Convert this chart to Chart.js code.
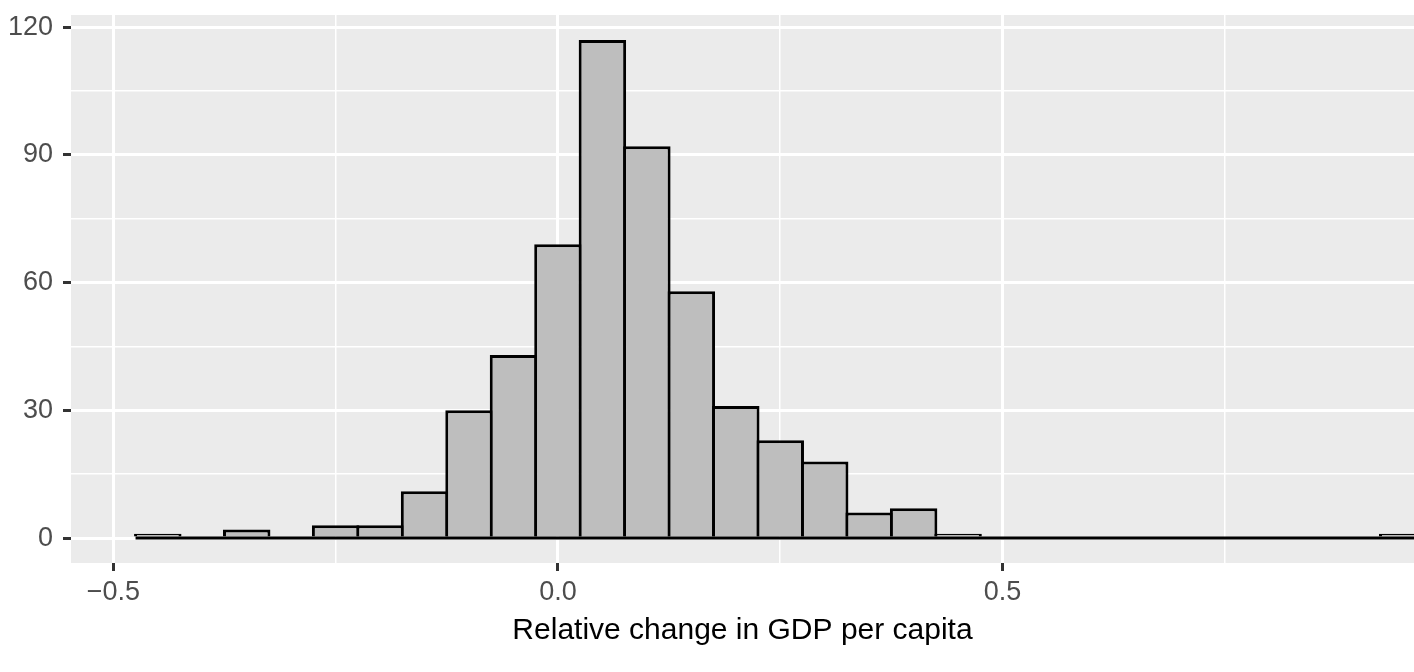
<!DOCTYPE html>
<html>
<head>
<meta charset="utf-8">
<title>Relative change in GDP per capita</title>
<script src="https://cdn.jsdelivr.net/npm/chart.js@4.4.1/dist/chart.umd.min.js"></script>
<style>
    html, body { margin: 0; padding: 0; background: #ffffff; overflow: hidden; }
    .chart-box { position: relative; width: 1414px; height: 672px; }
</style>
</head>
<body>
<div class="chart-box"><canvas id="hist-chart"></canvas></div>
<script>
// Bins (width 0.05) and counts
const binWidth = 0.05;
const binCenters = [-0.45, -0.40, -0.35, -0.30, -0.25, -0.20, -0.15, -0.10, -0.05, 0.00,
    0.05, 0.10, 0.15, 0.20, 0.25, 0.30, 0.35, 0.40, 0.45, 0.50,
    0.55, 0.60, 0.65, 0.70, 0.75, 0.80, 0.85, 0.90, 0.95];
const counts = [1, 0, 2, 0, 3, 3, 11, 30, 43, 69,
    117, 92, 58, 31, 23, 18, 6, 7, 1, 0,
    0, 0, 0, 0, 0, 0, 0, 0, 1];

// Axis ticks (major get labels, minor only grid lines)
const xTicks = [-0.5, -0.25, 0, 0.25, 0.5, 0.75];
const xMajor = [-0.5, 0, 0.5];
const yTicks = [0, 15, 30, 45, 60, 75, 90, 105, 120];
const yMajor = [0, 30, 60, 90, 120];

// Visible range (panel is cut at the right edge of the picture)
const xRange = [-0.5476, 0.9627];
const yRange = [-5.85, 122.85];

document.addEventListener('DOMContentLoaded', function () {
    const isMajor = (list, v) => list.some(m => Math.abs(m - v) < 1e-9);
    const fmtX = v => (v < 0 ? '\u2212' : '') + Math.abs(v).toFixed(1);

    const bars = binCenters.map((c, i) => ({ x: c, y: counts[i] }));
    // outline along zero, also under the empty bins
    const baseline = [
        { x: binCenters[0] - binWidth / 2, y: 0 },
        { x: binCenters[binCenters.length - 1] + binWidth / 2, y: 0 }
    ];

    // grey panel background
    const panelBg = {
        id: 'panelBg',
        beforeDraw(chart) {
            const { ctx, chartArea: a } = chart;
            ctx.save();
            ctx.fillStyle = '#EBEBEB';
            ctx.fillRect(a.left, a.top, a.right - a.left, a.bottom - a.top);
            ctx.restore();
        }
    };

    Chart.defaults.font.family = "'Liberation Sans', Arial, sans-serif";

    const ctx = document.getElementById('hist-chart').getContext('2d');
    new Chart(ctx, {
        type: 'bar',
        data: {
            datasets: [{
                type: 'line',
                data: baseline,
                borderColor: '#000000',
                borderWidth: 3,
                pointRadius: 0,
                order: 0
            }, {
                data: bars,
                backgroundColor: '#BEBEBE',
                borderColor: '#000000',
                borderWidth: 3,
                borderSkipped: 'start',
                categoryPercentage: 1,
                barPercentage: 1.0675,
                order: 1
            }]
        },
        options: {
            responsive: true,
            maintainAspectRatio: false,
            animation: false,
            layout: { padding: { top: 15, right: 0, bottom: 0, left: 0 } },
            plugins: {
                legend: { display: false },
                tooltip: { enabled: false }
            },
            scales: {
                x: {
                    type: 'linear',
                    min: xRange[0],
                    max: xRange[1],
                    offset: false,
                    border: { display: false },
                    grid: {
                        offset: false,
                        color: '#FFFFFF',
                        lineWidth: c => isMajor(xMajor, c.tick.value) ? 3 : 1.5,
                        tickLength: 8,
                        tickWidth: 3,
                        tickColor: c => isMajor(xMajor, c.tick.value) ? '#333333' : 'rgba(0,0,0,0)'
                    },
                    afterBuildTicks: axis => { axis.ticks = xTicks.map(v => ({ value: v })); },
                    afterFit: axis => {
                        axis.height = 109;
                        axis.paddingLeft = 0;
                        axis.paddingRight = 0;
                    },
                    ticks: {
                        autoSkip: false,
                        maxRotation: 0,
                        padding: 5,
                        color: '#4D4D4D',
                        font: { size: 27 },
                        callback: v => isMajor(xMajor, v) ? fmtX(v) : ''
                    },
                    title: {
                        display: true,
                        text: 'Relative change in GDP per capita',
                        color: '#000000',
                        font: { size: 30 },
                        padding: { top: 0, bottom: 23 }
                    }
                },
                y: {
                    min: yRange[0],
                    max: yRange[1],
                    border: { display: false },
                    grid: {
                        color: '#FFFFFF',
                        lineWidth: c => isMajor(yMajor, c.tick.value) ? 3 : 1.5,
                        tickLength: 8,
                        tickWidth: 3,
                        tickColor: c => isMajor(yMajor, c.tick.value) ? '#333333' : 'rgba(0,0,0,0)'
                    },
                    afterBuildTicks: axis => { axis.ticks = yTicks.map(v => ({ value: v })); },
                    afterFit: axis => {
                        axis.width = 71;
                        axis.paddingTop = 0;
                        axis.paddingBottom = 0;
                    },
                    ticks: {
                        autoSkip: false,
                        padding: 10,
                        color: '#4D4D4D',
                        font: { size: 27 },
                        callback: v => isMajor(yMajor, v) ? String(v) : ''
                    }
                }
            }
        },
        plugins: [panelBg]
    });
});
</script>
</body>
</html>
